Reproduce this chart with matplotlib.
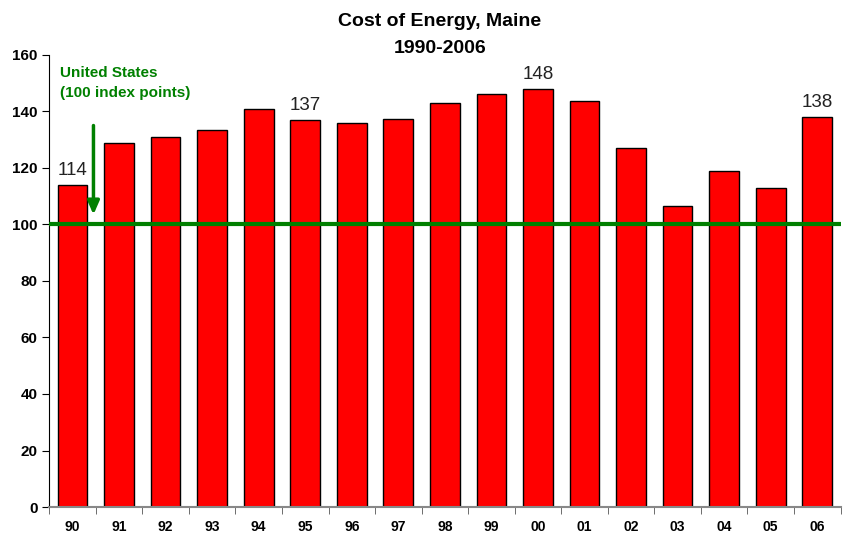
import matplotlib
matplotlib.use("Agg")
import matplotlib.pyplot as plt
import numpy as np

plt.rcParams['font.family'] = ['Liberation Sans', 'DejaVu Sans']

years = ["90", "91", "92", "93", "94", "95", "96", "97", "98", "99", "00", "01", "02", "03", "04", "05", "06"]
values = [114, 129, 131, 133.5, 141, 137, 136, 137.3, 143, 146, 148, 143.7, 127, 106.5, 119, 112.8, 138]
labeled = {"90": "114", "95": "137", "00": "148", "06": "138"}
us_index = 100

fig = plt.figure(figsize=(8.49, 5.44), dpi=100)
ax = fig.add_axes([0.058, 0.068, 0.932, 0.831])

x = np.arange(len(years))
ax.bar(x, values, width=0.64, color="#ff0000", edgecolor="black", linewidth=1, zorder=2)
for xi, y, v in zip(x, years, values):
    if y in labeled:
        ax.text(xi, v + 2, labeled[y], ha="center", va="bottom", fontsize=13.5, color="#222222")

ax.axhline(us_index, color="#008000", linewidth=3, zorder=3)
ax.annotate("", xy=(0.45, 102.5), xytext=(0.45, 136),
            arrowprops=dict(arrowstyle="-|>,head_width=0.35,head_length=0.8", color="#008000", lw=2.5), zorder=4)
ax.text(-0.27, 156, "United States\n(100 index points)", color="#008000", fontsize=11,
        fontweight="bold", ha="left", va="top", linespacing=1.55)

ax.set_xlim(-0.5, len(years) - 0.5)
ax.set_ylim(0, 160)
ax.set_yticks(range(0, 161, 20))
ax.set_xticks(x)
ax.set_xticklabels(years, fontweight="bold", fontsize=10)
ax.set_xticks(np.arange(-0.5, len(years), 1), minor=True)
ax.tick_params(axis="x", which="major", length=0, pad=9)
ax.tick_params(axis="x", which="minor", length=5, color="#555555")
for lbl in ax.get_yticklabels():
    lbl.set_fontweight("bold")
ax.tick_params(axis="y", labelsize=11, length=5, direction="out")
ax.spines["top"].set_visible(False)
ax.spines["right"].set_visible(False)
ax.spines["bottom"].set_color("#888888")
ax.spines["bottom"].set_linewidth(1.5)

fig.suptitle("Cost of Energy, Maine\n1990-2006", fontsize=14, fontweight="bold", x=0.518, y=0.976,
             linespacing=1.75)

fig.savefig("out.png", dpi=100)
